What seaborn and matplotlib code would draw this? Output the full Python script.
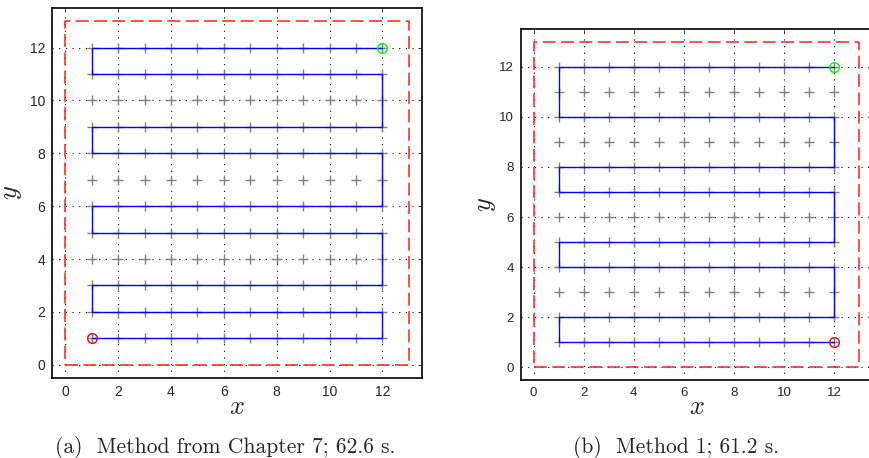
import seaborn as sns
import matplotlib.pyplot as plt
import pandas as pd
import numpy as np

# waypoint grid (gray pluses)
grid_x = [1, 2, 3, 4, 5, 6, 7, 8, 9, 10, 11, 12]
grid_y = [1, 2, 3, 4, 5, 6, 7, 8, 9, 10, 11, 12]

# boundary box (red dashed)
box_x = [0, 13, 13, 0, 0]
box_y = [0, 0, 13, 13, 0]

# (a) Method from Chapter 7
path_a_x = [1, 12, 12, 1, 1, 12, 12, 1, 1, 12, 12, 1, 1, 12, 12, 1, 1, 12]
path_a_y = [1, 1, 2, 2, 3, 3, 5, 5, 6, 6, 8, 8, 9, 9, 11, 11, 12, 12]

# (b) Method 1
path_b_x = [12, 1, 1, 12, 12, 1, 1, 12, 12, 1, 1, 12, 12, 1, 1, 12]
path_b_y = [1, 1, 2, 2, 4, 4, 5, 5, 7, 7, 8, 8, 10, 10, 12, 12]

ticks = [0, 2, 4, 6, 8, 10, 12]
captions = ["(a)  Method from Chapter 7; 62.6 s.", "(b)  Method 1; 61.2 s."]

sns.set_style("white")
plt.rcParams["font.family"] = ["Liberation Sans", "DejaVu Sans"]
plt.rcParams["mathtext.fontset"] = "cm"

gx, gy = np.meshgrid(grid_x, grid_y)
pts = pd.DataFrame({"x": gx.ravel(), "y": gy.ravel()})

fig = plt.figure(figsize=(8.7, 4.58), dpi=100)
ax_a = fig.add_axes([0.0598, 0.1747, 0.4253, 0.8079])
ax_b = fig.add_axes([0.5989, 0.1703, 0.4034, 0.7664])


def draw(ax, px, py, fs, ylabelpad):
    ax.grid(True, color="black", linestyle=(0, (1, 5)), linewidth=0.8)
    ax.plot(box_x, box_y, color="#ff2020", linestyle=(0, (8.5, 3.5)), linewidth=1.1, zorder=2)
    sns.scatterplot(data=pts, x="x", y="y", marker="+", color="#808080", s=60,
                    linewidth=1.0, ax=ax, zorder=3)
    path = pd.DataFrame({"x": px, "y": py})
    sns.lineplot(data=path, x="x", y="y", sort=False, estimator=None, color="blue",
                 linewidth=1.0, ax=ax, zorder=4)
    ax.plot(px[0], py[0], "o", mfc="none", mec="red", ms=7, mew=1.0, zorder=5)
    ax.plot(px[-1], py[-1], "o", mfc="none", mec="#00ff00", ms=7, mew=1.0, zorder=5)
    ax.set_xlim(-0.5, 13.5)
    ax.set_ylim(-0.5, 13.5)
    ax.set_xticks(ticks)
    ax.set_yticks(ticks)
    ax.tick_params(direction="in", length=3, width=0.6, labelsize=fs,
                   top=True, right=True, pad=5)
    for s in ax.spines.values():
        s.set_linewidth(1.2)
        s.set_color("black")
    ax.set_xlabel("$x$", fontsize=19, labelpad=-3)
    ax.set_ylabel("$y$", fontsize=19, labelpad=ylabelpad)


draw(ax_a, path_a_x, path_a_y, 10, 4)
draw(ax_b, path_b_x, path_b_y, 9.5, 1)

fig.text(0.259, 0.024, captions[0], family="cmr10", fontsize=15.5, ha="center", va="center")
fig.text(0.777, 0.024, captions[1], family="cmr10", fontsize=15.5, ha="center", va="center")

fig.savefig("out.png", dpi=100)
plt.close(fig)
